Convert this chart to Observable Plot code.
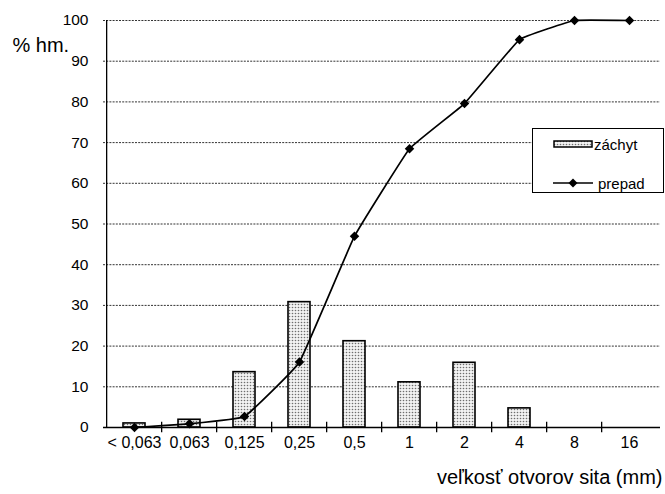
<!DOCTYPE html>
<html><head><meta charset="utf-8">
<script src="https://cdn.jsdelivr.net/npm/d3@7"></script>
<script src="https://cdn.jsdelivr.net/npm/@observablehq/plot@0.6"></script>
<style>
body{margin:0;background:#fff;font-family:"Liberation Sans",Arial,sans-serif}
#wrap{position:relative;width:665px;height:494px}
#legend{position:absolute;left:532px;top:128px;width:130px;height:63px;border:1px solid #000;background:#fff;font-size:15px;color:#000}
#legend .row{position:absolute;left:20px;display:flex;align-items:center}
#legend svg{display:block}
</style></head>
<body><div id="wrap"></div>
<script>
const categories = ["< 0,063","0,063","0,125","0,25","0,5","1","2","4","8","16"];
const zachyt = [1,1.9,13.6,30.8,21.2,11.1,15.9,4.7,0,0];
const prepad = [0,0.9,2.7,16.1,47,68.5,79.6,95.3,100,100];
const yTicks = [0,10,20,30,40,50,60,70,80,90,100];
const yTitle = "% hm.";
const xTitle = "veľkosť otvorov sita (mm)";
const legendLabels = ["záchyt","prepad"];

const data = categories.map((c,i)=>({c, zachyt:zachyt[i], prepad:prepad[i]}));
const W=665,H=494,mL=103,mR=5,mT=20,mB=67;
const step=(W-mL-mR)/categories.length;
const font='"Liberation Sans",Arial,sans-serif';

const chart = Plot.plot({
  width:W,height:H,marginTop:mT,marginRight:mR,marginBottom:mB,marginLeft:mL,
  style:{fontFamily:font,fontSize:"15px",color:"#000",background:"#fff",overflow:"visible"},
  x:{domain:categories,paddingInner:0.6,paddingOuter:0.3,axis:null},
  y:{domain:[0,100],axis:null},
  marks:[
    Plot.gridY(yTicks,{stroke:"#333",strokeOpacity:1,strokeDasharray:"2,1.2",strokeWidth:1}),
    Plot.barY(data,{x:"c",y:"zachyt",fill:"url(#dots)",stroke:"#000",strokeWidth:1.6}),
    Plot.axisY(yTicks,{tickSize:0,tickPadding:15,fontSize:15.5,label:null}),
    Plot.axisX({tickSize:0,tickPadding:9,fontSize:16,label:null}),
    Plot.ruleY([0],{stroke:"#000",strokeWidth:1.3}),
    Plot.ruleX([categories[0]],{y1:0,y2:100,dx:-step/2,stroke:"#000",strokeWidth:1.3}),
    Plot.ruleX(categories.slice(1),{y1:-1.3,y2:1.3,dx:-step/2,stroke:"#000",strokeWidth:1.3}),
    Plot.line(data,{x:"c",y:"prepad",curve:d3.curveCardinal.tension(0.75),stroke:"#000",strokeWidth:1.7}),
    Plot.dot(data,{x:"c",y:"prepad",symbol:"diamond2",r:4.3,fill:"#000",stroke:"none"}),
    Plot.text([yTitle],{frameAnchor:"top-left",dx:-91,dy:17,textAnchor:"start",fontSize:20}),
    Plot.text([xTitle],{frameAnchor:"bottom-right",dx:2,dy:56,textAnchor:"end",fontSize:20})
  ]
});
d3.select(chart).insert("defs",":first-child").html(
 '<pattern id="dots" width="3" height="3" patternUnits="userSpaceOnUse"><rect width="3" height="3" fill="#f2f2f2"/><circle cx="1.5" cy="1.5" r="0.8" fill="#6e6e6e"/></pattern>');
const wrap=document.getElementById("wrap");
wrap.appendChild(chart);
const lg=document.createElement("div");
lg.id="legend";
lg.innerHTML=
 '<div class="row" style="top:5px"><svg width="41" height="20"><rect x="1" y="7" width="38" height="6" fill="url(#dots)" stroke="#000" stroke-width="1.5"/></svg><span>'+legendLabels[0]+'</span></div>'+
 '<div class="row" style="top:44px"><svg width="45" height="20"><line x1="0" y1="10" x2="40" y2="10" stroke="#000" stroke-width="1.6"/><path d="M20,5.5L24.5,10L20,14.5L15.5,10Z" fill="#000"/></svg><span>'+legendLabels[1]+'</span></div>';
wrap.appendChild(lg);
</script>
</body></html>
